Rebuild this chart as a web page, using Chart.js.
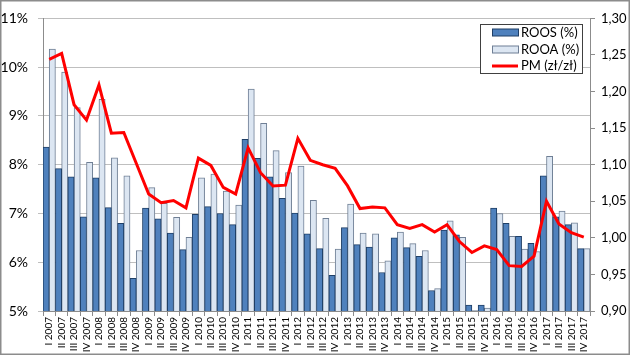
<!DOCTYPE html>
<html>
<head>
<meta charset="utf-8">
<script src="https://cdn.jsdelivr.net/npm/chart.js@4/dist/chart.umd.min.js"></script>
<style>
html,body{margin:0;padding:0;background:#fff;}
#wrap{width:630px;height:355px;position:relative;}
</style>
</head>
<body>
<div id="wrap"><canvas id="c" width="630" height="355"></canvas></div>
<script>
const categories = [
 "I 2007","II 2007","III 2007","IV 2007",
 "I 2008","II 2008","III 2008","IV 2008",
 "I 2009","II 2009","III 2009","IV 2009",
 "I 2010","II 2010","III 2010","IV 2010",
 "I 2011","II 2011","III 2011","IV 2011",
 "I 2012","II 2012","III 2012","IV 2012",
 "I 2013","II 2013","III 2013","IV 2013",
 "I 2014","II 2014","III 2014","IV 2014",
 "I 2015","II 2015","III 2015","IV 2015",
 "I 2016","II 2016","III 2016","IV 2016",
 "I 2017","II 2017","III 2017","IV 2017"
];
const roos = [
 8.36,7.92,7.75,6.93,
 7.73,7.12,6.80,5.67,
 7.11,6.89,6.60,6.26,
 6.98,7.14,7.00,6.77,
 8.52,8.13,7.75,7.31,
 7.01,6.58,6.28,5.73,
 6.71,6.36,6.31,5.79,
 6.50,6.30,6.12,5.42,
 6.66,6.56,5.12,5.12,
 7.11,6.80,6.53,6.39,
 7.77,6.93,6.77,6.28
];
const rooa = [
 10.37,9.90,9.17,8.05,
 9.34,8.14,7.77,6.24,
 7.53,7.21,6.92,6.51,
 7.73,7.81,7.46,7.17,
 9.55,8.85,8.29,7.84,
 7.97,7.27,6.90,6.27,
 7.19,6.60,6.58,6.03,
 6.62,6.38,6.24,5.46,
 6.85,6.51,5.01,5.06,
 7.00,6.53,6.27,6.22,
 8.17,7.05,6.81,6.28
];
const pm = [
 1.244,1.252,1.182,1.161,
 1.209,1.143,1.144,1.102,
 1.060,1.048,1.051,1.041,
 1.109,1.099,1.069,1.060,
 1.123,1.089,1.071,1.072,
 1.136,1.106,1.100,1.095,
 1.071,1.040,1.042,1.041,
 1.018,1.013,1.018,1.008,
 1.018,0.995,0.980,0.989,
 0.984,0.962,0.961,0.975,
 1.050,1.019,1.007,1.001
];
const leftTicks = {min:5, max:11, step:1};
const rightTicks = {min:0.90, max:1.30, step:0.05};

const FONT = "Lato, 'Liberation Sans', sans-serif";

const legendPlugin = {
  id:'boxLegend',
  afterDraw(chart){
    const ctx = chart.ctx;
    ctx.save();
    const x=480.5, y=24.5, w=102, h=49;
    ctx.fillStyle='#fff';
    ctx.fillRect(x,y,w,h);
    ctx.strokeStyle='#404040';
    ctx.lineWidth=1;
    ctx.strokeRect(x,y,w,h);
    const ds = chart.data.datasets;
    const rows=[32.5,49.5,66];
    ctx.font = "13px " + FONT;
    ctx.textBaseline='middle';
    ds.forEach((d,i)=>{
      const ry = rows[i];
      if(d.type==='line'){
        ctx.strokeStyle=d.borderColor;
        ctx.lineWidth=3;
        ctx.beginPath();
        ctx.moveTo(492,ry);ctx.lineTo(518,ry);ctx.stroke();
      } else {
        ctx.fillStyle=d.backgroundColor;
        ctx.fillRect(492.5,ry-3.5,26,7);
        ctx.strokeStyle=d.borderColor;
        ctx.lineWidth=1;
        ctx.strokeRect(492.5,ry-3.5,26,7);
      }
      ctx.fillStyle='#000';
      ctx.fillText(d.label,521,ry);
    });
    // outer frame
    ctx.strokeStyle='#8c8c8c';
    ctx.lineWidth=1.5;
    ctx.strokeRect(0.75,0.75,628.5,353.5);
    ctx.restore();
  }
};

new Chart(document.getElementById('c'), {
  type:'bar',
  data:{
    labels:categories,
    datasets:[
      {label:'ROOS (%)', data:roos, yAxisID:'y', backgroundColor:'#4F81BD', borderColor:'#1F3F66', borderWidth:1, order:2},
      {label:'ROOA (%)', data:rooa, yAxisID:'y', backgroundColor:'#DCE6F2', borderColor:'#6F7F95', borderWidth:1, order:2},
      {type:'line', label:'PM (zł/zł)', data:pm, yAxisID:'y1', borderColor:'#FF0000', backgroundColor:'#FF0000', borderWidth:3, pointRadius:0, tension:0, order:0}
    ]
  },
  options:{
    responsive:false,
    animation:false,
    devicePixelRatio:1,
    layout:{padding:{top:8,right:0,bottom:0,left:0}},
    plugins:{legend:{display:false}, tooltip:{enabled:false}},
    datasets:{bar:{categoryPercentage:1.0, barPercentage:1.0}},
    scales:{
      x:{
        grid:{display:true, drawOnChartArea:false, drawTicks:true, tickLength:5, color:'#8c8c8c', offset:true},
        border:{display:true, color:'#8c8c8c'},
        ticks:{autoSkip:false, maxRotation:90, minRotation:90, padding:1, font:{family:FONT,size:10}, color:'#000'},
        afterFit(s){s.height=44;}
      },
      y:{
        position:'left',
        min:leftTicks.min, max:leftTicks.max,
        grid:{color:'#bfbfbf', tickLength:5, drawTicks:true},
        border:{display:true, color:'#8c8c8c'},
        ticks:{stepSize:leftTicks.step, padding:10, font:{family:FONT,size:14}, color:'#000', callback:v=>v+'%'},
        afterFit(s){s.width=43;}
      },
      y1:{
        position:'right',
        min:rightTicks.min, max:rightTicks.max,
        grid:{drawOnChartArea:false, tickLength:5, color:'#8c8c8c'},
        border:{display:true, color:'#8c8c8c'},
        ticks:{stepSize:rightTicks.step, padding:6, font:{family:FONT,size:13}, color:'#000', callback:v=>v.toFixed(2).replace('.',',')},
        afterFit(s){s.width=40;}
      }
    }
  },
  plugins:[legendPlugin]
});
</script>
</body>
</html>
